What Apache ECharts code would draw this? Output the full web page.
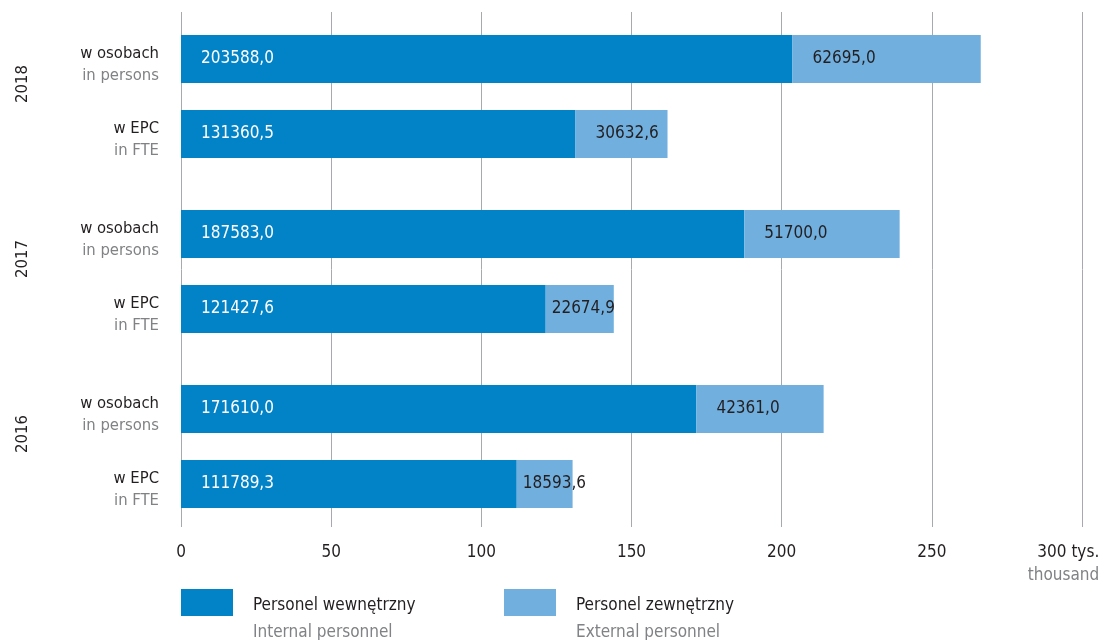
<!DOCTYPE html>
<html>
<head>
<meta charset="utf-8">
<script src="https://cdn.jsdelivr.net/npm/echarts@6/dist/echarts.min.js"></script>
<style>
  html, body { margin: 0; padding: 0; background: #fff; }
  #chart { width: 1103px; height: 640px; }
</style>
</head>
<body>
<div id="chart"></div>
<script>
// data (top to bottom)
const years = ["2018", "2017", "2016"];
const measureLabels = [["w osobach", "in persons"], ["w EPC", "in FTE"]];
const internalValues = [203588.0, 131360.5, 187583.0, 121427.6, 171610.0, 111789.3];
const externalValues = [62695.0, 30632.6, 51700.0, 22674.9, 42361.0, 18593.6];
const seriesNames = [
  ["Personel wewnętrzny", "Internal personnel"],
  ["Personel zewnętrzny", "External personnel"]
];
const xTicks = [0, 50000, 100000, 150000, 200000, 250000, 300000];

const FONT = '"Liberation Sans Narrow", "DejaVu Sans Condensed", sans-serif';
const DARK = "#231f20";
const GREY = "#808285";
const C_INT = "#0283c8";
const C_EXT = "#71afdf";

// slots on the category axis: each year takes 7 rows, bars on rows 0 and 3, year label on row 1
const SLOTS = 18;
const slotIdx = [];
years.forEach((y, g) => { slotIdx.push(g * 7, g * 7 + 3); });

const slots = [];
for (let i = 0; i < SLOTS; i++) slots.push("s" + i);

function fillSlots(values) {
  const arr = new Array(SLOTS).fill(null);
  values.forEach((v, k) => { arr[slotIdx[k]] = v; });
  return arr;
}

function fmt(v) {
  return v.toFixed(1).replace(".", ",");
}

function barData(values) {
  return fillSlots(values).map(v => {
    if (v == null) return null;
    // narrow segments get the label pushed close to the edge
    return { value: v, label: { distance: v < 25000 ? 6 : 20 } };
  });
}

const chart = echarts.init(document.getElementById("chart"));

const option = {
  animation: false,
  textStyle: { fontFamily: FONT },
  grid: [
    { left: 181, right: 21, top: 46.5, height: 450, outerBoundsMode: "none", containLabel: false },
    { left: 181, right: 21, top: 12, height: 515, outerBoundsMode: "none", containLabel: false }
  ],
  legend: seriesNames.map((n, i) => ({
    data: [n[0]],
    left: i === 0 ? 181 : 504,
    top: 589,
    padding: 0,
    itemWidth: 52,
    itemHeight: 27,
    selectedMode: false,
    icon: "rect",
    formatter: name => "{a|" + name + "}\n{b|" + n[1] + "}",
    textStyle: {
      padding: [34, 0, 0, 15],
      rich: {
        a: { fontFamily: FONT, fontSize: 17, color: DARK, lineHeight: 27 },
        b: { fontFamily: FONT, fontSize: 17, color: GREY, lineHeight: 27 }
      }
    }
  })),
  xAxis: [
    { gridIndex: 0, type: "value", min: 0, max: 300000, show: false },
    {
      gridIndex: 1, type: "value", min: 0, max: 300000, interval: 50000,
      axisLine: { show: false },
      axisTick: { show: false },
      splitLine: { show: true, lineStyle: { color: "#a7a9ac", width: 1 } },
      axisLabel: {
        margin: 14,
        fontFamily: FONT,
        fontSize: 17,
        lineHeight: 23,
        color: DARK,
        formatter: v => {
          if (v === xTicks[xTicks.length - 1]) {
            return "{t|" + v / 1000 + " tys.}\n{u|thousand}";
          }
          return String(v / 1000);
        },
        rich: {
          t: { fontFamily: FONT, fontSize: 17, color: DARK, lineHeight: 23, align: "right", padding: [0, 37, 0, 0] },
          u: { fontFamily: FONT, fontSize: 17, color: GREY, lineHeight: 23, align: "right", padding: [0, 37, 0, 0] }
        }
      }
    }
  ],
  yAxis: [
    {
      gridIndex: 0, type: "category", data: slots, inverse: true,
      axisLine: { show: false },
      axisTick: { show: false },
      axisLabel: {
        margin: 22,
        interval: 0,
        padding: [12, 0, 0, 0],
        formatter: (val, idx) => {
          const k = slotIdx.indexOf(idx);
          if (k < 0) return "";
          const m = measureLabels[k % 2];
          return "{a|" + m[0] + "}\n{b|" + m[1] + "}";
        },
        rich: {
          a: { fontFamily: FONT, fontSize: 16.5, color: DARK, lineHeight: 22, align: "right" },
          b: { fontFamily: FONT, fontSize: 16.5, color: GREY, lineHeight: 22, align: "right" }
        }
      }
    },
    {
      gridIndex: 0, type: "category", data: slots, inverse: true, position: "left",
      axisLine: { show: false },
      axisTick: { show: false },
      axisLabel: {
        interval: 0,
        rotate: 90,
        margin: 150,
        fontFamily: FONT,
        fontSize: 16.5,
        color: DARK,
        formatter: (val, idx) => (idx % 7 === 1 ? years[(idx - 1) / 7] : "")
      }
    },
    { gridIndex: 1, type: "value", show: false }
  ],
  series: [
    {
      name: seriesNames[0][0],
      type: "bar",
      stack: "total",
      barWidth: 48,
      clip: false,
      xAxisIndex: 0,
      yAxisIndex: 0,
      itemStyle: { color: C_INT },
      label: {
        show: true, position: "insideLeft",
        fontFamily: FONT, fontSize: 17, color: "#ffffff",
        formatter: p => fmt(p.value)
      },
      data: barData(internalValues)
    },
    {
      name: seriesNames[1][0],
      type: "bar",
      stack: "total",
      barWidth: 48,
      clip: false,
      xAxisIndex: 0,
      yAxisIndex: 0,
      itemStyle: { color: C_EXT },
      label: {
        show: true, position: "insideLeft",
        fontFamily: FONT, fontSize: 17, color: DARK,
        formatter: p => fmt(p.value)
      },
      data: barData(externalValues)
    }
  ]
};

chart.setOption(option);
</script>
</body>
</html>
